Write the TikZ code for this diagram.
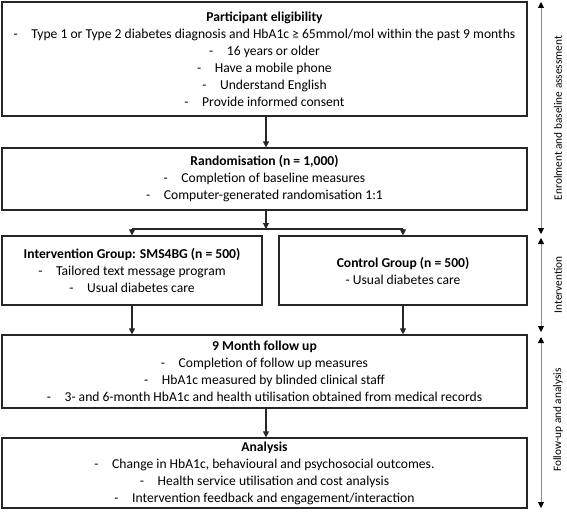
\documentclass[tikz,border=0pt]{standalone}
\usepackage{fontspec}
\setmainfont{Carlito}
\usetikzlibrary{arrows.meta}
\begin{document}
\begin{tikzpicture}[x=1pt,y=-1pt,
  box/.style={draw=black!85,line width=1.2pt,align=center,inner sep=0pt,
    font=\fontsize{13.6}{17}\selectfont},
  conn/.style={draw=black!85,line width=1.1pt,-{Triangle[length=6pt,width=6pt]}},
  phase/.style={draw=black!45,line width=0.9pt,{Triangle[length=6pt,width=6pt,black]}-{Triangle[length=6pt,width=6pt,black]}},
  phlabel/.style={rotate=90,font=\fontsize{11.3}{13}\selectfont}]
\useasboundingbox (0,0) rectangle (567,511);
\node[box,minimum width=525pt,minimum height=114pt] (b1) at (264.5,59)
 {\textbf{Participant eligibility}\\
  -\quad Type 1 or Type 2 diabetes diagnosis and HbA1c ≥ 65mmol/mol within the past 9 months\\
  -\quad 16 years or older\\
  -\quad Have a mobile phone\\
  -\quad Understand English\\
  -\quad Provide informed consent};
\node[box,minimum width=525pt,minimum height=62pt] (b2) at (264.5,179)
 {\textbf{Randomisation (n = 1,000)}\\
  -\quad Completion of baseline measures\\
  -\quad Computer-generated randomisation 1:1};
\node[box,minimum width=260pt,minimum height=69pt] (b3) at (132,270.5)
 {\textbf{Intervention Group: SMS4BG (n = 500)}\\
  -\quad Tailored text message program\\
  -\quad Usual diabetes care};
\node[box,minimum width=248pt,minimum height=69pt] (b4) at (403,270.5)
 {\textbf{Control Group (n = 500)}\\
  - Usual diabetes care};
\node[box,minimum width=525pt,minimum height=73pt] (b5) at (264.5,371.5)
 {\textbf{9 Month follow up}\\
  -\quad Completion of follow up measures\\
  -\quad HbA1c measured by blinded clinical staff\\
  -\quad 3- and 6-month HbA1c and health utilisation obtained from medical records};
\node[box,minimum width=525pt,minimum height=70pt] (b6) at (264.5,473)
 {\textbf{Analysis}\\
  -\quad Change in HbA1c, behavioural and psychosocial outcomes.\\
  -\quad Health service utilisation and cost analysis\\
  -\quad Intervention feedback and engagement/interaction};
\coordinate (br) at (266,229);
\coordinate (brl) at (b3.north |- br);
\coordinate (brr) at (b4.north |- br);
\draw[conn] (b1.south -| br) -- (b2.north -| br);
\draw[conn] (b2.south -| br) -- (br);
\draw[draw=black!85,line width=1.1pt] (brl) -- (brr);
\draw[conn] (brl) -- (b3.north);
\draw[conn] (brr) -- (b4.north);
\draw[conn] (b3.south) -- (b3.south |- b5.north);
\draw[conn] (b4.south) -- (b4.south |- b5.north);
\draw[conn] (b5.south -| br) -- (b6.north -| br);
\coordinate (p1t) at (541,2);
\coordinate (p1b) at (541,234);
\coordinate (p2t) at (541,238);
\coordinate (p2b) at (541,332);
\coordinate (p3t) at (541,337);
\coordinate (p3b) at (541,508);
\draw[phase] (p1t) -- (p1b);
\draw[phase] (p2t) -- (p2b);
\draw[phase] (p3t) -- (p3b);
\node[phlabel] (l1) at (558,118) {Enrolment and baseline assessment};
\node[phlabel] (l2) at (558,285) {Intervention};
\node[phlabel] (l3) at (558,420) {Follow-up and analysis};
\end{tikzpicture}
\end{document}
